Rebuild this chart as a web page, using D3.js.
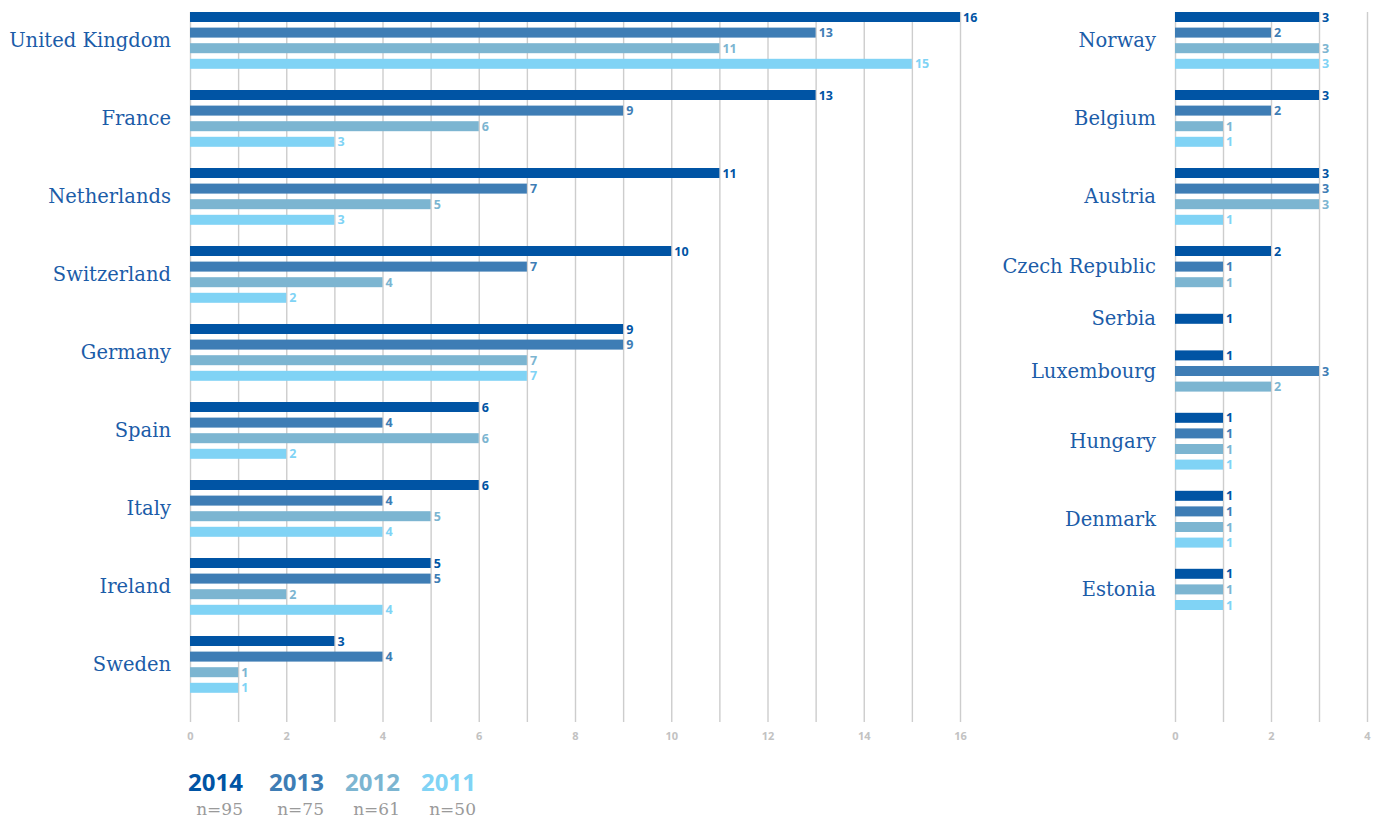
<!DOCTYPE html>
<html>
<head>
<meta charset="utf-8">
<script src="https://cdn.jsdelivr.net/npm/d3@7"></script>
<style>
  body { margin: 0; background: #fff; }
  svg { display: block; }
</style>
</head>
<body>
<script>
// data
var years = ["2014", "2013", "2012", "2011"];
var sampleSizes = ["n=95", "n=75", "n=61", "n=50"];
var colors = ["#0054a4", "#3e7db5", "#7cb5d1", "#80d3f5"];

var leftCountries = ["United Kingdom", "France", "Netherlands", "Switzerland", "Germany", "Spain", "Italy", "Ireland", "Sweden"];
var left2014 = [16, 13, 11, 10, 9, 6, 6, 5, 3];
var left2013 = [13, 9, 7, 7, 9, 4, 4, 5, 4];
var left2012 = [11, 6, 5, 4, 7, 6, 5, 2, 1];
var left2011 = [15, 3, 3, 2, 7, 2, 4, 4, 1];

var rightCountries = ["Norway", "Belgium", "Austria", "Czech Republic", "Serbia", "Luxembourg", "Hungary", "Denmark", "Estonia"];
var right2014 = [3, 3, 3, 2, 1, 1, 1, 1, 1];
var right2013 = [2, 2, 3, 1, null, 3, 1, 1, null];
var right2012 = [3, 1, 3, 1, null, 2, 1, 1, 1];
var right2011 = [3, 1, 1, null, null, null, 1, 1, 1];

var leftTicks = d3.range(0, 17);
var rightTicks = d3.range(0, 5);

var totalWidth = 1376, totalHeight = 818;
var gridTop = 12, gridBottom = 722;
var pitch = 15.6, barH = 10;

var svg = d3.select("body").append("svg")
    .attr("width", totalWidth)
    .attr("height", totalHeight);

function drawPanel(countries, series, xScale, ticks, labelX) {
    // gridlines + tick labels via axis
    var axis = d3.axisBottom(xScale)
        .tickValues(ticks)
        .tickSize(-(gridBottom - gridTop))
        .tickPadding(10)
        .tickFormat(function(d){ return d % 2 ? "" : d; });
    var g = svg.append("g")
        .attr("transform", "translate(0," + gridBottom + ")")
        .call(axis);
    g.select(".domain").remove();
    g.selectAll(".tick line").attr("stroke", "#cdcdcd").attr("stroke-width", 1.4);
    g.selectAll(".tick text")
        .attr("fill", "#c2c2c2")
        .style("font-family", "'Open Sans', sans-serif")
        .style("font-weight", "bold")
        .style("font-size", "11px");

    // rows: height depends on how many bars a country has
    var rowTop = 1.4;
    countries.forEach(function(c, i) {
        var present = [];
        series.forEach(function(s, k) {
            if (s[i] != null) present.push({ v: s[i], k: k });
        });
        var n = present.length;
        var rowH = Math.max((n + 1) * pitch, 42);
        var block = n * pitch - (pitch - barH);
        var y0 = rowTop + (rowH - block) / 2;

        svg.append("text")
            .attr("x", labelX)
            .attr("y", rowTop + rowH / 2)
            .attr("dy", "0.34em")
            .attr("text-anchor", "end")
            .attr("fill", "#1b5ca8")
            .style("font-family", "'DejaVu Serif', serif")
            .style("font-size", "19.5px")
            .text(c);

        var grp = svg.append("g");
        grp.selectAll("rect")
            .data(present)
            .enter()
            .append("rect")
            .attr("x", xScale(0))
            .attr("y", function(d, j){ return y0 + j * pitch; })
            .attr("width", function(d){ return xScale(d.v) - xScale(0); })
            .attr("height", barH)
            .attr("fill", function(d){ return colors[d.k]; });

        grp.selectAll("text")
            .data(present)
            .enter()
            .append("text")
            .attr("x", function(d){ return xScale(d.v) + 3; })
            .attr("y", function(d, j){ return y0 + j * pitch + barH / 2; })
            .attr("dy", "0.36em")
            .attr("fill", function(d){ return colors[d.k]; })
            .style("font-family", "'Open Sans', sans-serif")
            .style("font-weight", "bold")
            .style("font-size", "12.5px")
            .text(function(d){ return d.v; });

        rowTop += rowH;
    });
}

var xLeft = d3.scaleLinear().domain([0, 16]).range([190, 960]);
var xRight = d3.scaleLinear().domain([0, 4]).range([1175, 1367]);

drawPanel(leftCountries, [left2014, left2013, left2012, left2011], xLeft, leftTicks, 171);
drawPanel(rightCountries, [right2014, right2013, right2012, right2011], xRight, rightTicks, 1156);

// legend
var legendRight = [243, 324, 400, 476];
var legend = svg.append("g");
legend.selectAll("text.year")
    .data(years)
    .enter()
    .append("text")
    .attr("class", "year")
    .attr("x", function(d, i){ return legendRight[i]; })
    .attr("y", 791)
    .attr("text-anchor", "end")
    .attr("fill", function(d, i){ return colors[i]; })
    .style("font-family", "'Open Sans', sans-serif")
    .style("font-weight", "bold")
    .style("font-size", "24px")
    .text(function(d){ return d; });

legend.selectAll("text.n")
    .data(sampleSizes)
    .enter()
    .append("text")
    .attr("class", "n")
    .attr("x", function(d, i){ return legendRight[i]; })
    .attr("y", 815)
    .attr("text-anchor", "end")
    .attr("fill", "#9a9a9a")
    .style("font-family", "'DejaVu Serif', serif")
    .style("font-size", "17px")
    .text(function(d){ return d; });
</script>
</body>
</html>
